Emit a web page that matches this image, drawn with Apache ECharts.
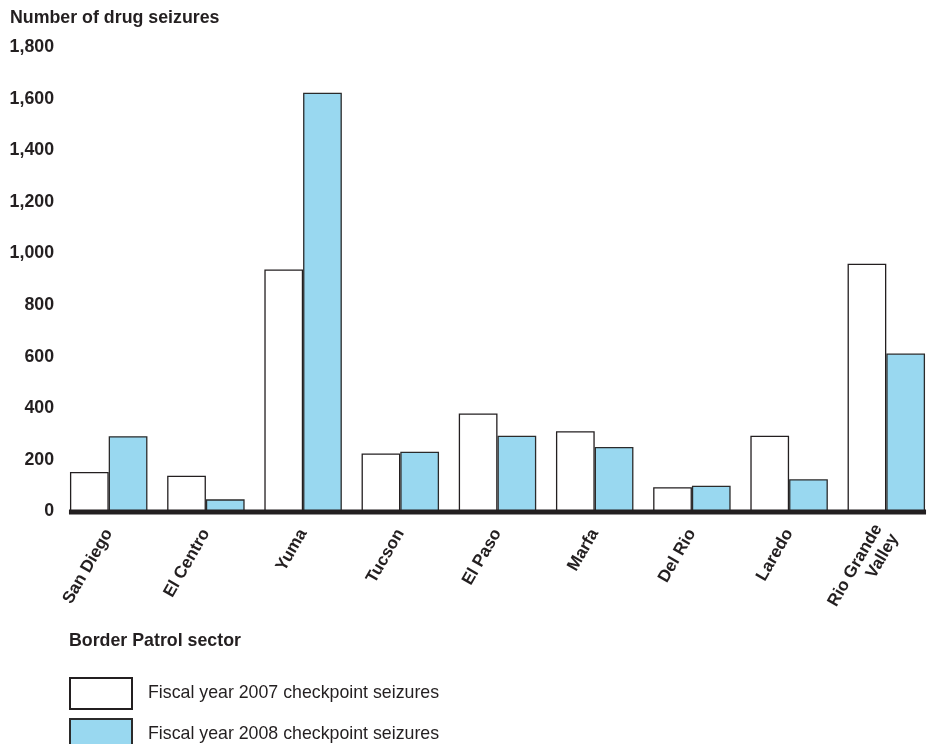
<!DOCTYPE html>
<html>
<head>
<meta charset="utf-8">
<script src="https://cdn.jsdelivr.net/npm/echarts@6/dist/echarts.min.js"></script>
<style>
html,body{margin:0;padding:0;background:#fff;overflow:hidden;width:933px;height:744px;}
#chart{width:950px;height:744px;}
</style>
</head>
<body>
<div id="chart"></div>
<script>
const categories = ['San Diego', 'El Centro', 'Yuma', 'Tucson', 'El Paso', 'Marfa', 'Del Rio', 'Laredo', 'Rio Grande\nValley'];
const fy2007 = [153, 139, 938, 225, 380, 311, 94, 294, 960];
const fy2008 = [292, 47, 1623, 232, 294, 250, 100, 125, 612];
const yTicks = [0, 200, 400, 600, 800, 1000, 1200, 1400, 1600, 1800];
const seriesNames = ['Fiscal year 2007 checkpoint seizures', 'Fiscal year 2008 checkpoint seizures'];

const FONT = '"Liberation Sans", Arial, Helvetica, sans-serif';
const INK = '#231f20';
const GAP = 0.203;

const chart = echarts.init(document.getElementById('chart'), null, {renderer: 'canvas'});
chart.setOption({
  animation: false,
  backgroundColor: '#ffffff',
  textStyle: {fontFamily: FONT},
  title: [
    {text: 'Number of drug seizures', left: 10, top: 9, padding: 0,
     textStyle: {fontFamily: FONT, fontSize: 17.8, fontWeight: 'bold', color: INK}},
    {text: 'Border Patrol sector', left: 69, top: 632, padding: 0,
     textStyle: {fontFamily: FONT, fontSize: 17.8, fontWeight: 'bold', color: INK}}
  ],
  legend: {
    orient: 'vertical', left: 69, top: 677, height: 120, padding: 0,
    itemWidth: 62, itemHeight: 31, itemGap: 8,
    icon: 'rect',
    data: seriesNames,
    textStyle: {fontFamily: FONT, fontSize: 17.75, color: INK, padding: [6, 0, 0, 11]}
  },
  grid: {left: 60.1, width: 874.8, top: 47, bottom: 232.5, containLabel: false},
  xAxis: {
    type: 'category',
    data: categories,
    axisLine: {show: false},
    axisTick: {show: false},
    axisLabel: {
      interval: 0, rotate: 60, margin: 19,
      fontFamily: FONT, fontSize: 17, fontWeight: 'bold', color: INK,
      lineHeight: 19
    }
  },
  yAxis: {
    type: 'value',
    min: yTicks[0], max: yTicks[yTicks.length - 1], interval: 200,
    axisLine: {show: false},
    axisTick: {show: false},
    splitLine: {show: false},
    axisLabel: {
      margin: 6,
      fontFamily: FONT, fontSize: 17.8, fontWeight: 'bold', color: INK,
      formatter: v => v.toLocaleString('en-US')
    }
  },
  series: [
    {name: seriesNames[0], type: 'bar', data: fy2007,
     barGap: '0%', barCategoryGap: (GAP * 100) + '%',
     itemStyle: {color: '#ffffff', borderColor: INK, borderWidth: 1.3}},
    {name: seriesNames[1], type: 'bar', data: fy2008,
     itemStyle: {color: '#99d8f0', borderColor: '#2b2b2b', borderWidth: 1.3}}
  ]
});

// Thick baseline spanning the bar groups, positioned through the axes' scales
const xFirst = chart.convertToPixel({xAxisIndex: 0}, categories[0]);
const xLast = chart.convertToPixel({xAxisIndex: 0}, categories[categories.length - 1]);
const band = (xLast - xFirst) / (categories.length - 1);
const half = band * (1 - GAP) / 2;
const yZero = chart.convertToPixel({yAxisIndex: 0}, 0);
chart.setOption({
  graphic: [{
    type: 'rect', z: 100,
    shape: {x: xFirst - half - 1, y: yZero - 2, width: (xLast - xFirst) + 2 * half + 2, height: 5},
    style: {fill: INK}
  }]
});
</script>
</body>
</html>
